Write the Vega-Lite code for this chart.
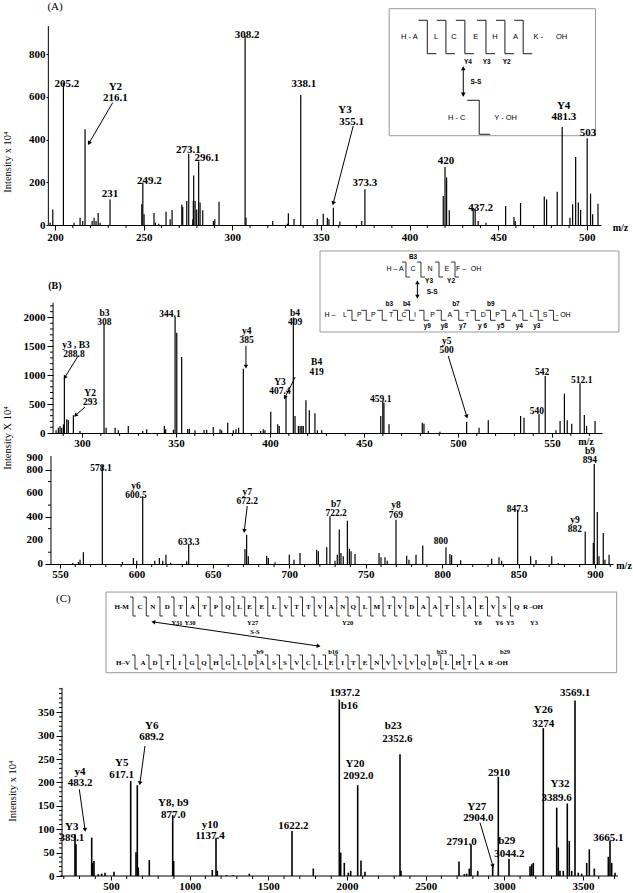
{
"$schema": "https://vega.github.io/schema/vega-lite/v6.json",
"padding": {"left": 3, "top": 1, "right": 8, "bottom": 0},
"background": "white",
"bounds": "flush",
"spacing": 0,
"config": {
 "view": {"stroke": null},
 "axis": {"grid": false, "domainColor": "black", "tickColor": "black", "labelColor": "black", "labelFont": "Liberation Serif", "labelFontWeight": "bold", "labelFontSize": 11, "labelOverlap": false, "labelFlush": false, "domainWidth": 1, "tickWidth": 1},
 "text": {"color": "black"},
 "rule": {"color": "black"},
 "point": {"color": "black"}
},
"datasets": {
 "one": [{}],
 "A_xm": [{"v":210},{"v":220},{"v":230},{"v":240},{"v":260},{"v":270},{"v":280},{"v":290},{"v":310},{"v":320},{"v":330},{"v":340},{"v":360},{"v":370},{"v":380},{"v":390},{"v":410},{"v":420},{"v":430},{"v":440},{"v":460},{"v":470},{"v":480},{"v":490}],
 "B1_xm": [{"v":290},{"v":310},{"v":320},{"v":330},{"v":340},{"v":360},{"v":370},{"v":380},{"v":390},{"v":410},{"v":420},{"v":430},{"v":440},{"v":460},{"v":470},{"v":480},{"v":490},{"v":510},{"v":520},{"v":530},{"v":540},{"v":560},{"v":570}],
 "B1_ym": [{"v":100},{"v":200},{"v":300},{"v":400},{"v":600},{"v":700},{"v":800},{"v":900},{"v":1100},{"v":1200},{"v":1300},{"v":1400},{"v":1600},{"v":1700},{"v":1800},{"v":1900},{"v":2100},{"v":2200}],
 "B2_xm": [{"v":560},{"v":570},{"v":580},{"v":590},{"v":610},{"v":620},{"v":630},{"v":640},{"v":660},{"v":670},{"v":680},{"v":690},{"v":710},{"v":720},{"v":730},{"v":740},{"v":760},{"v":770},{"v":780},{"v":790},{"v":810},{"v":820},{"v":830},{"v":840},{"v":860},{"v":870},{"v":880},{"v":890},{"v":910}],
 "B2_ym": [{"v":100},{"v":300},{"v":500},{"v":700}],
 "B2_ymaj": [{"v":0,"t":"0"},{"v":200,"t":"200"},{"v":400,"t":"400"},{"v":600,"t":"600"},{"v":800,"t":"800"},{"v":900,"t":"900"}],
 "C_xm": [{"v":200},{"v":300},{"v":400},{"v":600},{"v":700},{"v":800},{"v":900},{"v":1100},{"v":1200},{"v":1300},{"v":1400},{"v":1600},{"v":1700},{"v":1800},{"v":1900},{"v":2100},{"v":2200},{"v":2300},{"v":2400},{"v":2600},{"v":2700},{"v":2800},{"v":2900},{"v":3100},{"v":3200},{"v":3300},{"v":3400},{"v":3600},{"v":3700}],
 "C_ym": [{"v":10},{"v":20},{"v":30},{"v":40},{"v":60},{"v":70},{"v":80},{"v":90},{"v":110},{"v":120},{"v":130},{"v":140},{"v":160},{"v":170},{"v":180},{"v":190},{"v":210},{"v":220},{"v":230},{"v":240},{"v":260},{"v":270},{"v":280},{"v":290},{"v":310},{"v":320},{"v":330},{"v":340},{"v":360},{"v":370},{"v":380},{"v":390},{"v":400}],
 "A_box": [{"x":388.5,"x2":504.9,"y":418.3,"y2":1013.3}],
 "A_pk": [{"m":197.2,"i":11},{"m":198.7,"i":73},{"m":204.7,"i":667},{"m":210.7,"i":11},{"m":214.1,"i":34},{"m":215.6,"i":19},{"m":216.9,"i":448},{"m":220.9,"i":19},{"m":222,"i":34},{"m":223.1,"i":19},{"m":224.3,"i":56},{"m":225.4,"i":11},{"m":231,"i":120},{"m":248.9,"i":97},{"m":249.5,"i":198},{"m":250.2,"i":50},{"m":255.8,"i":56},{"m":256.6,"i":11},{"m":258.5,"i":6},{"m":262.6,"i":62},{"m":264.9,"i":27},{"m":266,"i":70},{"m":271.5,"i":95},{"m":272,"i":86},{"m":274.3,"i":112},{"m":275.4,"i":334},{"m":277.7,"i":27},{"m":278,"i":112},{"m":278.2,"i":232},{"m":279,"i":112},{"m":279.9,"i":73},{"m":281,"i":297},{"m":281.8,"i":105},{"m":283.3,"i":69},{"m":289.3,"i":19},{"m":290.1,"i":27},{"m":292.5,"i":109},{"m":307.2,"i":885},{"m":307.7,"i":34},{"m":322.8,"i":19},{"m":331,"i":6},{"m":331.6,"i":55},{"m":334.8,"i":28},{"m":338.6,"i":609},{"m":347.9,"i":28},{"m":351.3,"i":53},{"m":353.6,"i":34},{"m":354.5,"i":27},{"m":357,"i":81},{"m":360.7,"i":16},{"m":373,"i":19},{"m":374.8,"i":167},{"m":419,"i":136},{"m":420,"i":272},{"m":420.9,"i":222},{"m":422.4,"i":69},{"m":435.9,"i":78},{"m":437,"i":78},{"m":438.7,"i":19},{"m":443.1,"i":11},{"m":454.2,"i":89},{"m":458.9,"i":37},{"m":459.6,"i":19},{"m":462.6,"i":103},{"m":476,"i":133},{"m":477.3,"i":120},{"m":483.3,"i":156},{"m":486.1,"i":459},{"m":490.5,"i":34},{"m":492,"i":97},{"m":493.7,"i":319},{"m":495.2,"i":105},{"m":496.5,"i":70},{"m":500.2,"i":406},{"m":502.1,"i":147},{"m":503.3,"i":50},{"m":506.3,"i":100}],
 "A_lab": [{"m":206.6,"i":662,"t":"205.2"},{"m":234,"i":645,"t":"Y2"},{"m":234,"i":596,"t":"216.1"},{"m":231,"i":144,"t":"231"},{"m":253.2,"i":206,"t":"249.2"},{"m":275.2,"i":350,"t":"273.1"},{"m":285.7,"i":315,"t":"296.1"},{"m":308.3,"i":889,"t":"308.2"},{"m":340.4,"i":660,"t":"338.1"},{"m":363.6,"i":537,"t":"Y3"},{"m":367.3,"i":484,"t":"355.1"},{"m":374.8,"i":198,"t":"373.3"},{"m":420.5,"i":300,"t":"420"},{"m":440.1,"i":81,"t":"437.2"},{"m":486.9,"i":556,"t":"Y4"},{"m":487.1,"i":506,"t":"481.3"},{"m":500.6,"i":432,"t":"503"}],
 "A_mz": [{"m":519,"i":-13,"t":"m/z"}],
 "A_yt": [{"m":173.5,"i":295,"t":"Intensity x 10⁴"}],
 "A_sh": [{"m":232.5,"i":573,"m2":219.3,"i2":385.6},{"m":368.2,"i":463.8,"m2":357,"i2":104.5},{"m":430.3,"i":740,"m2":430.3,"i2":604}],
 "A_hd": [{"m":219.3,"i":385.6,"a":210.3},{"m":357,"i":104.5,"a":194.6},{"m":430.3,"i":731,"a":0},{"m":430.3,"i":614,"a":180}],
 "A_res": [{"m":399.9,"i":880.7,"t":"H - A"},{"m":414.9,"i":880.7,"t":"L"},{"m":425,"i":880.7,"t":"C"},{"m":437.4,"i":880.7,"t":"E"},{"m":448.2,"i":880.7,"t":"H"},{"m":459.8,"i":880.7,"t":"A"},{"m":472.6,"i":880.7,"t":"K -"},{"m":485.8,"i":880.7,"t":"OH"},{"m":426.6,"i":502.7,"t":"H - C"},{"m":454.2,"i":502.7,"t":"Y  -  OH"}],
 "A_ion": [{"m":432.9,"i":763.6,"t":"Y4"},{"m":443.5,"i":763.6,"t":"Y3"},{"m":454.8,"i":763.6,"t":"Y2"},{"m":437.4,"i":671.3,"t":"S-S"}],
 "A_title": [{"m":200,"i":1019,"t":"(A)"}],
 "A_sep1": [{"s":410},{"s":420.5},{"s":431.2},{"s":443.1},{"s":453.8},{"s":464.1}],
 "A_sep2": [{"s":439.3}],
 "B_box": [{"x":426.6,"x2":585.6,"y":1748,"y2":3150}],
 "B1_pk": [{"m":286.2,"i":46},{"m":287.4,"i":92},{"m":288.3,"i":121},{"m":289.2,"i":92},{"m":290.1,"i":150},{"m":290.6,"i":958},{"m":291.9,"i":237},{"m":292.7,"i":225},{"m":295.4,"i":306},{"m":298.9,"i":35},{"m":311.7,"i":1881},{"m":312.8,"i":92},{"m":317.6,"i":92},{"m":319.3,"i":46},{"m":324.6,"i":121},{"m":332.3,"i":35},{"m":334.4,"i":63},{"m":343.8,"i":121},{"m":344.5,"i":63},{"m":348.6,"i":58},{"m":349.5,"i":2008},{"m":350.4,"i":1737},{"m":353,"i":1316},{"m":356.2,"i":69},{"m":357.1,"i":75},{"m":360.1,"i":46},{"m":364.9,"i":52},{"m":366.3,"i":58},{"m":369.8,"i":104},{"m":373.4,"i":63},{"m":374.3,"i":46},{"m":377.5,"i":179},{"m":380.5,"i":46},{"m":381.9,"i":63},{"m":383.3,"i":92},{"m":385.8,"i":1114},{"m":395,"i":35},{"m":396.4,"i":63},{"m":397.3,"i":46},{"m":400.4,"i":369},{"m":404.1,"i":150},{"m":404.9,"i":121},{"m":408.5,"i":612},{"m":412.4,"i":1997},{"m":413.3,"i":294},{"m":415.1,"i":121},{"m":416,"i":121},{"m":416.9,"i":121},{"m":417.7,"i":121},{"m":419.1,"i":565},{"m":420.9,"i":392},{"m":423.9,"i":340},{"m":425.2,"i":46},{"m":427.5,"i":46},{"m":458.9,"i":294},{"m":460,"i":554},{"m":460.6,"i":525},{"m":463.3,"i":150},{"m":481,"i":179},{"m":481.9,"i":162},{"m":484.2,"i":35},{"m":490.4,"i":23},{"m":504.6,"i":196},{"m":511.2,"i":92},{"m":516.1,"i":219},{"m":533.3,"i":294},{"m":535.1,"i":265},{"m":543.1,"i":323},{"m":546.4,"i":987},{"m":552.1,"i":46},{"m":554.3,"i":208},{"m":556.6,"i":681},{"m":558.1,"i":219},{"m":560.5,"i":162},{"m":564.9,"i":860},{"m":567.2,"i":312},{"m":568.4,"i":121},{"m":572.9,"i":208}],
 "B1_lab": [{"m":311.9,"i":2080,"t":"b3"},{"m":311.9,"i":1926,"t":"308"},{"m":296.8,"i":1530,"t":"y3 , B3"},{"m":295.7,"i":1372,"t":"288.8"},{"m":304.3,"i":700,"t":"Y2"},{"m":304.3,"i":542,"t":"293"},{"m":346.8,"i":2065,"t":"344.1"},{"m":387.6,"i":1765,"t":"y4"},{"m":387.6,"i":1604,"t":"385"},{"m":405.3,"i":888,"t":"Y3"},{"m":405.3,"i":727,"t":"407.4"},{"m":413.3,"i":2080,"t":"b4"},{"m":413.3,"i":1921,"t":"409"},{"m":424.8,"i":1222,"t":"B4"},{"m":424.8,"i":1061,"t":"419"},{"m":458.9,"i":583,"t":"459.1"},{"m":494,"i":1597,"t":"y5"},{"m":494,"i":1436,"t":"500"},{"m":544.8,"i":1061,"t":"542"},{"m":565.8,"i":922,"t":"512.1"},{"m":541.9,"i":381,"t":"540"}],
 "B1_mz": [{"m":568.1,"i":-156,"t":"m/z"}],
 "B1_sh": [{"m":297.9,"i":1332.6,"m2":291,"i2":969.2},{"m":301.6,"i":450,"m2":296.8,"i2":311.5},{"m":387.2,"i":1505.7,"m2":387.2,"i2":1159.6},{"m":413.4,"i":969.2,"m2":408.1,"i2":623},{"m":494.8,"i":1332.6,"m2":504.6,"i2":294.2},{"m":478.4,"i":2631,"m2":478.4,"i2":2336}],
 "B1_hd": [{"m":291,"i":969.2,"a":211.8},{"m":296.8,"i":311.5,"a":228.4},{"m":387.2,"i":1159.6,"a":180},{"m":408.1,"i":623,"a":206.6},{"m":504.6,"i":294.2,"a":163},{"m":478.4,"i":2596,"a":0},{"m":478.4,"i":2371,"a":180}],
 "B_res": [{"m":466.5,"i":2838,"t":"H – A"},{"m":476.1,"i":2838,"t":"C"},{"m":485.1,"i":2838,"t":"N"},{"m":494.1,"i":2838,"t":"E"},{"m":501.6,"i":2838,"t":"F –"},{"m":509.6,"i":2838,"t":"OH"},{"m":431.9,"i":2037,"t":"H –"},{"m":439.9,"i":2037,"t":"L"},{"m":447.5,"i":2037,"t":"P"},{"m":455,"i":2037,"t":"P"},{"m":464.4,"i":2037,"t":"T"},{"m":471.3,"i":2037,"t":"C"},{"m":477.1,"i":2037,"t":"I"},{"m":486.5,"i":2037,"t":"P"},{"m":495.7,"i":2037,"t":"A"},{"m":504.9,"i":2037,"t":"T"},{"m":513.5,"i":2037,"t":"D"},{"m":521.1,"i":2037,"t":"P"},{"m":529.8,"i":2037,"t":"A"},{"m":539.2,"i":2037,"t":"L"},{"m":546.3,"i":2037,"t":"S"},{"m":556,"i":2037,"t":"- OH"}],
 "B_ion": [{"m":476.1,"i":3046,"t":"B3"},{"m":484.6,"i":2631,"t":"Y3"},{"m":496.3,"i":2631,"t":"Y2"},{"m":486.2,"i":2440,"t":"S-S"},{"m":463.5,"i":2238,"t":"b3"},{"m":472.7,"i":2238,"t":"b4"},{"m":498.9,"i":2238,"t":"b7"},{"m":517.4,"i":2238,"t":"b9"},{"m":483.7,"i":1852,"t":"y9"},{"m":492.7,"i":1852,"t":"y8"},{"m":502.5,"i":1852,"t":"y7"},{"m":513.1,"i":1852,"t":"y 6"},{"m":522.7,"i":1852,"t":"y5"},{"m":532.6,"i":1852,"t":"y4"},{"m":541.9,"i":1852,"t":"y3"}],
 "B_title": [{"m":285.6,"i":2544,"t":"(B)"}],
 "B_sepU": [{"s":472.3},{"s":480.3},{"s":489.9},{"s":498.4}],
 "B_sepL": [{"s":443.6},{"s":451.2},{"s":459.7},{"s":467.8},{"s":474.2},{"s":481.9},{"s":491.1},{"s":500.4},{"s":509.2},{"s":517.3},{"s":525.4},{"s":534.5},{"s":542.7},{"s":550.8}],
 "B2_pk": [{"m":558.3,"i":8},{"m":562,"i":17},{"m":563.1,"i":37},{"m":565.3,"i":99},{"m":577.7,"i":838},{"m":590.8,"i":17},{"m":598,"i":51},{"m":600.2,"i":28},{"m":604.1,"i":575},{"m":612,"i":28},{"m":615,"i":51},{"m":617.2,"i":28},{"m":619.3,"i":79},{"m":622.4,"i":11},{"m":632.9,"i":23},{"m":634.2,"i":164},{"m":671,"i":127},{"m":672.1,"i":249},{"m":673.2,"i":65},{"m":685.2,"i":71},{"m":686.3,"i":51},{"m":690.7,"i":14},{"m":700,"i":79},{"m":703.1,"i":37},{"m":707,"i":93},{"m":717.9,"i":122},{"m":719,"i":108},{"m":724.5,"i":142},{"m":726.6,"i":405},{"m":729.9,"i":28},{"m":731.4,"i":79},{"m":732.7,"i":292},{"m":733.8,"i":93},{"m":735.3,"i":65},{"m":738,"i":368},{"m":739.3,"i":130},{"m":740.4,"i":108},{"m":743,"i":85},{"m":758.7,"i":93},{"m":760,"i":57},{"m":762.6,"i":57},{"m":764.1,"i":28},{"m":769.8,"i":376},{"m":776.8,"i":71},{"m":778.3,"i":37},{"m":782.9,"i":79},{"m":787.3,"i":158},{"m":802.5,"i":142},{"m":805.1,"i":85},{"m":806.2,"i":74},{"m":812.1,"i":31},{"m":832.4,"i":45},{"m":837.2,"i":57},{"m":838.9,"i":28},{"m":849.4,"i":461},{"m":857.9,"i":65},{"m":861.4,"i":34},{"m":871.7,"i":65},{"m":876,"i":6},{"m":893.6,"i":277},{"m":898.9,"i":178},{"m":899.5,"i":849},{"m":901.5,"i":442},{"m":902.6,"i":65},{"m":905.4,"i":263},{"m":906.5,"i":37},{"m":909.2,"i":79}],
 "B2_lab": [{"m":576.8,"i":818,"t":"578.1"},{"m":599.7,"i":662,"t":"y6"},{"m":599.7,"i":586,"t":"600.5"},{"m":634.2,"i":189,"t":"633.3"},{"m":672.5,"i":614,"t":"y7"},{"m":672.5,"i":532,"t":"672.2"},{"m":730.6,"i":506,"t":"b7"},{"m":730.6,"i":430,"t":"722.2"},{"m":769.8,"i":505,"t":"y8"},{"m":769.8,"i":416,"t":"769"},{"m":799.2,"i":195,"t":"800"},{"m":849.2,"i":470,"t":"847.3"},{"m":886.9,"i":377,"t":"y9"},{"m":886.9,"i":295,"t":"882"},{"m":896.7,"i":959,"t":"b9"},{"m":896.7,"i":883,"t":"894"}],
 "B2_mz": [{"m":919,"i":-17,"t":"m/z"}],
 "B2_yt": [{"m":516,"i":1070,"t":"Intensity X 10⁴"}],
 "B2_sh": [{"m":672.5,"i":492,"m2":670.6,"i2":286}],
 "B2_hd": [{"m":670.6,"i":286,"a":187}],
 "C_box": [{"x":468.2,"x2":3714.2,"y":434.4,"y2":606.8}],
 "C_pk": [{"m":271.2,"i":89},{"m":277.5,"i":68},{"m":377.3,"i":82},{"m":383.7,"i":28},{"m":392,"i":32},{"m":419.3,"i":4},{"m":440.9,"i":5},{"m":461.9,"i":7},{"m":519.1,"i":9},{"m":625.2,"i":203},{"m":658.9,"i":51},{"m":667.2,"i":194},{"m":673.5,"i":18},{"m":743.4,"i":34},{"m":892.2,"i":130},{"m":898.5,"i":32},{"m":1143.9,"i":13},{"m":1167.4,"i":82},{"m":1175.7,"i":11},{"m":1235.4,"i":2},{"m":1277.4,"i":2},{"m":1379.1,"i":5},{"m":1650.5,"i":96},{"m":1785.9,"i":16},{"m":1951.1,"i":377},{"m":1960,"i":50},{"m":1982.9,"i":28},{"m":2008.3,"i":7},{"m":2023.5,"i":11},{"m":2068,"i":194},{"m":2089,"i":33},{"m":2114.4,"i":9},{"m":2336.9,"i":260},{"m":2343.3,"i":11},{"m":2711.9,"i":31},{"m":2745.6,"i":4},{"m":2760.8,"i":5},{"m":2777.4,"i":16},{"m":2788.2,"i":68},{"m":2830.8,"i":11},{"m":2926.1,"i":21},{"m":2961.7,"i":212},{"m":3029.7,"i":37},{"m":3163.2,"i":21},{"m":3174,"i":25},{"m":3184.1,"i":28},{"m":3247.7,"i":316},{"m":3332.9,"i":146},{"m":3343,"i":61},{"m":3353.8,"i":11},{"m":3374.8,"i":11},{"m":3400.2,"i":155},{"m":3412.9,"i":75},{"m":3428.2,"i":11},{"m":3449.2,"i":375},{"m":3470.2,"i":7},{"m":3491.8,"i":5},{"m":3523.6,"i":28},{"m":3540.2,"i":57},{"m":3572,"i":16},{"m":3661,"i":41},{"m":3671.7,"i":76},{"m":3682.5,"i":28},{"m":3703.5,"i":7}],
 "C_lab": [{"m":250.2,"i":105,"t":"Y3"},{"m":252.1,"i":82,"t":"389.1"},{"m":303,"i":222,"t":"y4"},{"m":303,"i":199,"t":"483.2"},{"m":568,"i":241,"t":"Y5"},{"m":568,"i":215,"t":"617.1"},{"m":758.7,"i":320,"t":"Y6"},{"m":758.7,"i":296,"t":"689.2"},{"m":896,"i":155,"t":"Y8, b9"},{"m":896,"i":130,"t":"877.0"},{"m":1129.3,"i":109,"t":"y10"},{"m":1129.3,"i":85,"t":"1137.4"},{"m":1658.7,"i":107,"t":"1622.2"},{"m":1987.3,"i":390,"t":"1937.2"},{"m":2014.6,"i":363,"t":"b16"},{"m":2050.9,"i":240,"t":"Y20"},{"m":2072,"i":214,"t":"2092.0"},{"m":2294.3,"i":321,"t":"b23"},{"m":2319.7,"i":292,"t":"2352.6"},{"m":2824.4,"i":147,"t":"Y27"},{"m":2834.6,"i":123,"t":"2904.0"},{"m":2729.1,"i":73,"t":"2791.0"},{"m":2966.2,"i":221,"t":"2910"},{"m":3015.1,"i":74,"t":"b29"},{"m":3031.6,"i":48,"t":"3044.2"},{"m":3247.8,"i":355,"t":"Y26"},{"m":3247.8,"i":325,"t":"3274"},{"m":3353.9,"i":197,"t":"Y32"},{"m":3332.9,"i":166,"t":"3389.6"},{"m":3449.2,"i":390,"t":"3569.1"},{"m":3660.9,"i":82,"t":"3665.1"}],
 "C_yt": [{"m":-119.7,"i":181.6,"t":"Intensity x 10⁴"}],
 "C_sh": [{"m":298.5,"i":185.3,"m2":334.7,"i2":99.8},{"m":716.1,"i":277.8,"m2":684.3,"i2":199.4},{"m":2845.4,"i":113.9,"m2":2926.1,"i2":22.9},{"m":773.3,"i":542.7,"m2":1815.7,"i2":491.5}],
 "C_hd": [{"m":334.7,"i":99.8,"a":172},{"m":684.3,"i":199.4,"a":187.8},{"m":2926.1,"i":22.9,"a":163.4},{"m":773.3,"i":542.7,"a":278.3},{"m":1815.7,"i":491.5,"a":98.3}],
 "C_res": [{"m":568,"i":574.8,"t":"H-M"},{"m":684.3,"i":574.8,"t":"C"},{"m":765,"i":574.8,"t":"N"},{"m":857.8,"i":574.8,"t":"D"},{"m":941.7,"i":574.8,"t":"T"},{"m":1018,"i":574.8,"t":"A"},{"m":1094.3,"i":574.8,"t":"T"},{"m":1167.4,"i":574.8,"t":"P"},{"m":1243.7,"i":574.8,"t":"Q"},{"m":1318,"i":574.8,"t":"L"},{"m":1381.6,"i":574.8,"t":"E"},{"m":1457.9,"i":574.8,"t":"E"},{"m":1536,"i":574.8,"t":"L"},{"m":1612.3,"i":574.8,"t":"V"},{"m":1680.3,"i":574.8,"t":"T"},{"m":1754.1,"i":574.8,"t":"T"},{"m":1828.4,"i":574.8,"t":"V"},{"m":1898.3,"i":574.8,"t":"A"},{"m":1972.7,"i":574.8,"t":"N"},{"m":2040,"i":574.8,"t":"Q"},{"m":2114.4,"i":574.8,"t":"L"},{"m":2188.8,"i":574.8,"t":"M"},{"m":2268.9,"i":574.8,"t":"T"},{"m":2336.9,"i":574.8,"t":"V"},{"m":2411.3,"i":574.8,"t":"D"},{"m":2485,"i":574.8,"t":"A"},{"m":2559.4,"i":574.8,"t":"A"},{"m":2633.8,"i":574.8,"t":"T"},{"m":2707.5,"i":574.8,"t":"S"},{"m":2777.4,"i":574.8,"t":"A"},{"m":2856.2,"i":574.8,"t":"E"},{"m":2930,"i":574.8,"t":"V"},{"m":2999.9,"i":574.8,"t":"S"},{"m":3078.7,"i":574.8,"t":"Q"},{"m":3182.3,"i":574.8,"t":"R -OH"},{"m":576.3,"i":455.8,"t":"H–V"},{"m":703.4,"i":455.8,"t":"A"},{"m":779.7,"i":455.8,"t":"D"},{"m":859.1,"i":455.8,"t":"T"},{"m":935.4,"i":455.8,"t":"I"},{"m":1014.8,"i":455.8,"t":"G"},{"m":1091.1,"i":455.8,"t":"Q"},{"m":1167.4,"i":455.8,"t":"H"},{"m":1243.7,"i":455.8,"t":"G"},{"m":1316.8,"i":455.8,"t":"L"},{"m":1386.7,"i":455.8,"t":"D"},{"m":1457.9,"i":455.8,"t":"A"},{"m":1536,"i":455.8,"t":"S"},{"m":1605.9,"i":455.8,"t":"S"},{"m":1680.3,"i":455.8,"t":"V"},{"m":1754.1,"i":455.8,"t":"C"},{"m":1828.4,"i":455.8,"t":"L"},{"m":1898.3,"i":455.8,"t":"E"},{"m":1972.7,"i":455.8,"t":"I"},{"m":2040,"i":455.8,"t":"T"},{"m":2114.4,"i":455.8,"t":"E"},{"m":2188.8,"i":455.8,"t":"N"},{"m":2262.5,"i":455.8,"t":"V"},{"m":2336.9,"i":455.8,"t":"V"},{"m":2411.3,"i":455.8,"t":"V"},{"m":2485,"i":455.8,"t":"Q"},{"m":2559.4,"i":455.8,"t":"D"},{"m":2633.8,"i":455.8,"t":"L"},{"m":2707.5,"i":455.8,"t":"H"},{"m":2777.4,"i":455.8,"t":"T"},{"m":2856.2,"i":455.8,"t":"A"},{"m":2959.8,"i":455.8,"t":"R -OH"}],
 "C_ion": [{"m":919.5,"i":541.2,"t":"Y31"},{"m":1002.1,"i":541.2,"t":"Y30"},{"m":1400.6,"i":541.2,"t":"Y27"},{"m":2004.5,"i":541.2,"t":"Y20"},{"m":2830.8,"i":541.2,"t":"Y8"},{"m":2968.1,"i":541.2,"t":"Y6"},{"m":3036.1,"i":541.2,"t":"Y5"},{"m":3188.7,"i":541.2,"t":"Y3"},{"m":1447.1,"i":478.6,"t":"b9"},{"m":1913,"i":478.6,"t":"b16"},{"m":2601.9,"i":478.6,"t":"b23"},{"m":3004.3,"i":478.6,"t":"b29"},{"m":1415.3,"i":522,"t":"S-S"}],
 "C_title": [{"m":196.8,"i":591.2,"t":"(C)"}],
 "C_sep1": [{"s":639.8},{"s":724.4},{"s":811.4},{"s":900.4},{"s":979.9},{"s":1056.2},{"s":1130.5},{"s":1205.5},{"s":1280.5},{"s":1349.8},{"s":1419.7},{"s":1496.6},{"s":1574.2},{"s":1646},{"s":1717.2},{"s":1791.6},{"s":1863.4},{"s":1935.2},{"s":2006.4},{"s":2077.6},{"s":2151.3},{"s":2228.9},{"s":2303.2},{"s":2373.8},{"s":2448.1},{"s":2522.5},{"s":2596.3},{"s":2670.6},{"s":2742.4},{"s":2816.8},{"s":2893.1},{"s":2964.9},{"s":3039.3}],
 "C_sep2": [{"s":652.5},{"s":741.5},{"s":819.1},{"s":897.3},{"s":974.8},{"s":1053},{"s":1129.3},{"s":1205.5},{"s":1279.9},{"s":1351.7},{"s":1422.3},{"s":1496.6},{"s":1571},{"s":1642.8},{"s":1717.2},{"s":1791.6},{"s":1863.4},{"s":1935.2},{"s":2006.4},{"s":2077.6},{"s":2151.3},{"s":2225.7},{"s":2300},{"s":2373.8},{"s":2448.1},{"s":2522.5},{"s":2596.3},{"s":2670.6},{"s":2742.4},{"s":2816.8}]
},
"vconcat": [
{
 "width": 553, "height": 222,
 "layer": [
  {"data": {"name": "A_box"}, "mark": {"type": "rect", "fillOpacity": 0, "stroke": "#999999", "strokeWidth": 1},
   "encoding": {
    "x": {"field": "x", "type": "quantitative", "scale": {"domain": [196, 508], "nice": false, "zero": false},
      "axis": {"title": null, "format": "d", "labelOverlap": false, "values": [200,250,300,350,400,450,500], "tickSize": 5, "labelPadding": 1}},
    "x2": {"field": "x2"},
    "y": {"field": "y", "type": "quantitative", "scale": {"domain": [0, 1040], "nice": false, "zero": false},
      "axis": {"title": null, "format": "d", "labelOverlap": false, "values": [0,200,400,600,800], "domain": false, "tickSize": 2, "labelPadding": 1}},
    "y2": {"field": "y2"}}},
  {"data": {"name": "A_pk"}, "mark": {"type": "rule", "strokeWidth": 1.2}, "encoding": {"x": {"field": "m", "type": "quantitative"}, "y": {"field": "i", "type": "quantitative"}, "y2": {"datum": 0}}},
  {"data": {"name": "one"}, "mark": {"type": "rule", "strokeWidth": 1}, "encoding": {"x": {"datum": 196.2}, "y": {"datum": 0}, "y2": {"datum": 932}}},
  {"data": {"name": "A_xm"}, "mark": {"type": "rule", "strokeWidth": 1, "y2Offset": 3}, "encoding": {"x": {"field": "v", "type": "quantitative"}, "y": {"datum": 0}, "y2": {"datum": 0}}},
  {"data": {"name": "A_lab"}, "mark": {"type": "text", "font": "Liberation Serif", "fontWeight": "bold", "fontSize": 11, "baseline": "middle", "align": "center"}, "encoding": {"x": {"field": "m", "type": "quantitative"}, "y": {"field": "i", "type": "quantitative"}, "text": {"field": "t"}}},
  {"data": {"name": "A_mz"}, "mark": {"type": "text", "font": "Liberation Serif", "fontWeight": "bold", "fontSize": 10, "baseline": "middle", "align": "center"}, "encoding": {"x": {"field": "m", "type": "quantitative"}, "y": {"field": "i", "type": "quantitative"}, "text": {"field": "t"}}},
  {"data": {"name": "A_yt"}, "mark": {"type": "text", "font": "Liberation Serif", "fontSize": 10.5, "angle": 270, "baseline": "middle", "align": "center"}, "encoding": {"x": {"field": "m", "type": "quantitative"}, "y": {"field": "i", "type": "quantitative"}, "text": {"field": "t"}}},
  {"data": {"name": "A_title"}, "mark": {"type": "text", "font": "Liberation Serif", "fontSize": 11, "baseline": "middle", "align": "center"}, "encoding": {"x": {"field": "m", "type": "quantitative"}, "y": {"field": "i", "type": "quantitative"}, "text": {"field": "t"}}},
  {"data": {"name": "A_sh"}, "mark": {"type": "rule", "strokeWidth": 1}, "encoding": {"x": {"field": "m", "type": "quantitative"}, "y": {"field": "i", "type": "quantitative"}, "x2": {"field": "m2"}, "y2": {"field": "i2"}}},
  {"data": {"name": "A_hd"}, "mark": {"type": "point", "shape": "triangle", "filled": true, "size": 22, "opacity": 1}, "encoding": {"x": {"field": "m", "type": "quantitative"}, "y": {"field": "i", "type": "quantitative"}, "angle": {"field": "a", "type": "quantitative", "scale": null}}},
  {"data": {"name": "A_res"}, "mark": {"type": "text", "font": "Liberation Sans", "fontSize": 7.5, "baseline": "middle", "align": "center"}, "encoding": {"x": {"field": "m", "type": "quantitative"}, "y": {"field": "i", "type": "quantitative"}, "text": {"field": "t"}}},
  {"data": {"name": "A_ion"}, "mark": {"type": "text", "font": "Liberation Sans", "fontWeight": "bold", "fontSize": 6.5, "baseline": "middle", "align": "center"}, "encoding": {"x": {"field": "m", "type": "quantitative"}, "y": {"field": "i", "type": "quantitative"}, "text": {"field": "t"}}},
  {"data": {"name": "A_sep1"}, "mark": {"type": "rule", "strokeWidth": 0.9}, "encoding": {"x": {"field": "s", "type": "quantitative"}, "y": {"datum": 959}, "y2": {"datum": 802.5}}},
  {"data": {"name": "A_sep1"}, "mark": {"type": "rule", "strokeWidth": 0.9, "xOffset": -9}, "encoding": {"x": {"field": "s", "type": "quantitative"}, "x2": {"field": "s"}, "y": {"datum": 959}}},
  {"data": {"name": "A_sep1"}, "mark": {"type": "rule", "strokeWidth": 0.9, "x2Offset": 9}, "encoding": {"x": {"field": "s", "type": "quantitative"}, "x2": {"field": "s"}, "y": {"datum": 802.5}}},
  {"data": {"name": "A_sep2"}, "mark": {"type": "rule", "strokeWidth": 0.9}, "encoding": {"x": {"field": "s", "type": "quantitative"}, "y": {"datum": 584.2}, "y2": {"datum": 425}}},
  {"data": {"name": "A_sep2"}, "mark": {"type": "rule", "strokeWidth": 0.9, "xOffset": -12}, "encoding": {"x": {"field": "s", "type": "quantitative"}, "x2": {"field": "s"}, "y": {"datum": 584.2}}},
  {"data": {"name": "A_sep2"}, "mark": {"type": "rule", "strokeWidth": 0.9, "x2Offset": 11}, "encoding": {"x": {"field": "s", "type": "quantitative"}, "x2": {"field": "s"}, "y": {"datum": 425}}}
 ]
},
{
 "width": 554, "height": 208,
 "layer": [
  {"data": {"name": "B_box"}, "mark": {"type": "rect", "fillOpacity": 0, "stroke": "#999999", "strokeWidth": 1},
   "encoding": {
    "x": {"field": "x", "type": "quantitative", "scale": {"domain": [281.9, 576.6], "nice": false, "zero": false},
      "axis": {"title": null, "format": "d", "labelOverlap": false, "values": [300,350,400,450,500,550], "tickSize": 4, "labelPadding": 0}},
    "x2": {"field": "x2"},
    "y": {"field": "y", "type": "quantitative", "scale": {"domain": [0, 3600], "nice": false, "zero": false},
      "axis": {"title": null, "format": "d", "labelOverlap": false, "values": [0,500,1000,1500,2000], "tickSize": 6, "domain": false, "offset": -5, "labelPadding": 2}},
    "y2": {"field": "y2"}}},
  {"data": {"name": "B1_pk"}, "mark": {"type": "rule", "strokeWidth": 1.2}, "encoding": {"x": {"field": "m", "type": "quantitative"}, "y": {"field": "i", "type": "quantitative"}, "y2": {"datum": 0}}},
  {"data": {"name": "one"}, "mark": {"type": "rule", "strokeWidth": 1}, "encoding": {"x": {"datum": 284.6}, "y": {"datum": 0}, "y2": {"datum": 2255}}},
  {"data": {"name": "B1_xm"}, "mark": {"type": "rule", "strokeWidth": 1, "y2Offset": 3}, "encoding": {"x": {"field": "v", "type": "quantitative"}, "y": {"datum": 0}, "y2": {"datum": 0}}},
  {"data": {"name": "B1_ym"}, "mark": {"type": "rule", "strokeWidth": 1, "xOffset": -3}, "encoding": {"x": {"datum": 284.6}, "x2": {"datum": 284.6}, "y": {"field": "v", "type": "quantitative"}}},
  {"data": {"name": "B1_lab"}, "mark": {"type": "text", "font": "Liberation Serif", "fontWeight": "bold", "fontSize": 9.5, "baseline": "middle", "align": "center"}, "encoding": {"x": {"field": "m", "type": "quantitative"}, "y": {"field": "i", "type": "quantitative"}, "text": {"field": "t"}}},
  {"data": {"name": "B1_mz"}, "mark": {"type": "text", "font": "Liberation Serif", "fontWeight": "bold", "fontSize": 10, "baseline": "middle", "align": "center"}, "encoding": {"x": {"field": "m", "type": "quantitative"}, "y": {"field": "i", "type": "quantitative"}, "text": {"field": "t"}}},
  {"data": {"name": "B_title"}, "mark": {"type": "text", "font": "Liberation Serif", "fontWeight": "bold", "fontSize": 10, "baseline": "middle", "align": "center"}, "encoding": {"x": {"field": "m", "type": "quantitative"}, "y": {"field": "i", "type": "quantitative"}, "text": {"field": "t"}}},
  {"data": {"name": "B1_sh"}, "mark": {"type": "rule", "strokeWidth": 1}, "encoding": {"x": {"field": "m", "type": "quantitative"}, "y": {"field": "i", "type": "quantitative"}, "x2": {"field": "m2"}, "y2": {"field": "i2"}}},
  {"data": {"name": "B1_hd"}, "mark": {"type": "point", "shape": "triangle", "filled": true, "size": 20, "opacity": 1}, "encoding": {"x": {"field": "m", "type": "quantitative"}, "y": {"field": "i", "type": "quantitative"}, "angle": {"field": "a", "type": "quantitative", "scale": null}}},
  {"data": {"name": "B_res"}, "mark": {"type": "text", "font": "Liberation Sans", "fontSize": 7, "baseline": "middle", "align": "center"}, "encoding": {"x": {"field": "m", "type": "quantitative"}, "y": {"field": "i", "type": "quantitative"}, "text": {"field": "t"}}},
  {"data": {"name": "B_ion"}, "mark": {"type": "text", "font": "Liberation Sans", "fontWeight": "bold", "fontSize": 6.5, "baseline": "middle", "align": "center"}, "encoding": {"x": {"field": "m", "type": "quantitative"}, "y": {"field": "i", "type": "quantitative"}, "text": {"field": "t"}}},
  {"data": {"name": "B_sepU"}, "mark": {"type": "rule", "strokeWidth": 0.8}, "encoding": {"x": {"field": "s", "type": "quantitative"}, "y": {"datum": 2959.5}, "y2": {"datum": 2700}}},
  {"data": {"name": "B_sepU"}, "mark": {"type": "rule", "strokeWidth": 0.8, "xOffset": -4}, "encoding": {"x": {"field": "s", "type": "quantitative"}, "x2": {"field": "s"}, "y": {"datum": 2959.5}}},
  {"data": {"name": "B_sepU"}, "mark": {"type": "rule", "strokeWidth": 0.8, "x2Offset": 4}, "encoding": {"x": {"field": "s", "type": "quantitative"}, "x2": {"field": "s"}, "y": {"datum": 2700}}},
  {"data": {"name": "B_sepL"}, "mark": {"type": "rule", "strokeWidth": 0.8}, "encoding": {"x": {"field": "s", "type": "quantitative"}, "y": {"datum": 2123.5}, "y2": {"datum": 1950.5}}},
  {"data": {"name": "B_sepL"}, "mark": {"type": "rule", "strokeWidth": 0.8, "xOffset": -5}, "encoding": {"x": {"field": "s", "type": "quantitative"}, "x2": {"field": "s"}, "y": {"datum": 2123.5}}},
  {"data": {"name": "B_sepL"}, "mark": {"type": "rule", "strokeWidth": 0.8, "x2Offset": 5}, "encoding": {"x": {"field": "s", "type": "quantitative"}, "x2": {"field": "s"}, "y": {"datum": 1950.5}}}
 ]
},
{
 "width": 565, "height": 131,
 "layer": [
  {"data": {"name": "B2_pk"}, "mark": {"type": "rule", "strokeWidth": 1.2},
   "encoding": {
    "x": {"field": "m", "type": "quantitative", "scale": {"domain": [542.15, 911.77], "nice": false, "zero": false},
      "axis": {"title": null, "format": "d", "labelOverlap": false, "values": [550,600,650,700,750,800,850,900], "tickSize": 4, "labelPadding": 0}},
    "y": {"field": "i", "type": "quantitative", "scale": {"domain": [0, 1112.3], "nice": false, "zero": false},
      "axis": {"title": null, "labels": false, "values": [0,200,400,600,800,900], "tickSize": 6, "domain": false, "offset": -3}},
    "y2": {"datum": 0}}},
  {"data": {"name": "one"}, "mark": {"type": "rule", "strokeWidth": 1}, "encoding": {"x": {"datum": 544.1}, "y": {"datum": 0}, "y2": {"datum": 917}}},
  {"data": {"name": "B2_xm"}, "mark": {"type": "rule", "strokeWidth": 1, "y2Offset": 3}, "encoding": {"x": {"field": "v", "type": "quantitative"}, "y": {"datum": 0}, "y2": {"datum": 0}}},
  {"data": {"name": "B2_ym"}, "mark": {"type": "rule", "strokeWidth": 1, "xOffset": -3}, "encoding": {"x": {"datum": 544.1}, "x2": {"datum": 544.1}, "y": {"field": "v", "type": "quantitative"}}},
  {"data": {"name": "B2_ymaj"}, "mark": {"type": "text", "font": "Liberation Serif", "fontWeight": "bold", "fontSize": 11, "baseline": "middle", "align": "right"}, "encoding": {"x": {"datum": 538.8}, "y": {"field": "v", "type": "quantitative"}, "text": {"field": "t"}}},
  {"data": {"name": "B2_lab"}, "mark": {"type": "text", "font": "Liberation Serif", "fontWeight": "bold", "fontSize": 9.5, "baseline": "middle", "align": "center"}, "encoding": {"x": {"field": "m", "type": "quantitative"}, "y": {"field": "i", "type": "quantitative"}, "text": {"field": "t"}}},
  {"data": {"name": "B2_mz"}, "mark": {"type": "text", "font": "Liberation Serif", "fontWeight": "bold", "fontSize": 10, "baseline": "middle", "align": "center"}, "encoding": {"x": {"field": "m", "type": "quantitative"}, "y": {"field": "i", "type": "quantitative"}, "text": {"field": "t"}}},
  {"data": {"name": "B2_yt"}, "mark": {"type": "text", "font": "Liberation Serif", "fontSize": 10.5, "angle": 270, "baseline": "middle", "align": "center"}, "encoding": {"x": {"field": "m", "type": "quantitative"}, "y": {"field": "i", "type": "quantitative"}, "text": {"field": "t"}}},
  {"data": {"name": "B2_sh"}, "mark": {"type": "rule", "strokeWidth": 1}, "encoding": {"x": {"field": "m", "type": "quantitative"}, "y": {"field": "i", "type": "quantitative"}, "x2": {"field": "m2"}, "y2": {"field": "i2"}}},
  {"data": {"name": "B2_hd"}, "mark": {"type": "point", "shape": "triangle", "filled": true, "size": 20, "opacity": 1}, "encoding": {"x": {"field": "m", "type": "quantitative"}, "y": {"field": "i", "type": "quantitative"}, "angle": {"field": "a", "type": "quantitative", "scale": null}}}
 ]
},
{
 "width": 570, "height": 312,
 "layer": [
  {"data": {"name": "C_box"}, "mark": {"type": "rect", "fillOpacity": 0, "stroke": "#999999", "strokeWidth": 1},
   "encoding": {
    "x": {"field": "x", "type": "quantitative", "scale": {"domain": [99.6, 3722.5], "nice": false, "zero": false},
      "axis": {"title": null, "format": "d", "labelOverlap": false, "domain": false, "values": [500,1000,1500,2000,2500,3000,3500], "tickSize": 4, "labelPadding": 0}},
    "x2": {"field": "x2"},
    "y": {"field": "y", "type": "quantitative", "scale": {"domain": [0, 666.7], "nice": false, "zero": false},
      "axis": {"title": null, "format": "d", "labelOverlap": false, "values": [0,50,100,150,200,250,300,350], "tickSize": 6, "domain": false, "offset": -14, "labelPadding": 2}},
    "y2": {"field": "y2"}}},
  {"data": {"name": "C_pk"}, "mark": {"type": "rule", "strokeWidth": 1.6}, "encoding": {"x": {"field": "m", "type": "quantitative"}, "y": {"field": "i", "type": "quantitative"}, "y2": {"datum": 0}}},
  {"data": {"name": "one"}, "mark": {"type": "rule", "strokeWidth": 1}, "encoding": {"x": {"datum": 188.6}, "y": {"datum": 0}, "y2": {"datum": 402}}},
  {"data": {"name": "one"}, "mark": {"type": "rule", "strokeWidth": 1}, "encoding": {"x": {"datum": 176}, "x2": {"datum": 3722.5}, "y": {"datum": 0}}},
  {"data": {"name": "C_xm"}, "mark": {"type": "rule", "strokeWidth": 1, "y2Offset": 3}, "encoding": {"x": {"field": "v", "type": "quantitative"}, "y": {"datum": 0}, "y2": {"datum": 0}}},
  {"data": {"name": "C_ym"}, "mark": {"type": "rule", "strokeWidth": 1, "xOffset": -3}, "encoding": {"x": {"datum": 188.6}, "x2": {"datum": 188.6}, "y": {"field": "v", "type": "quantitative"}}},
  {"data": {"name": "C_lab"}, "mark": {"type": "text", "font": "Liberation Serif", "fontWeight": "bold", "fontSize": 11, "baseline": "middle", "align": "center"}, "encoding": {"x": {"field": "m", "type": "quantitative"}, "y": {"field": "i", "type": "quantitative"}, "text": {"field": "t"}}},
  {"data": {"name": "C_yt"}, "mark": {"type": "text", "font": "Liberation Serif", "fontSize": 10.5, "angle": 270, "baseline": "middle", "align": "center"}, "encoding": {"x": {"field": "m", "type": "quantitative"}, "y": {"field": "i", "type": "quantitative"}, "text": {"field": "t"}}},
  {"data": {"name": "C_title"}, "mark": {"type": "text", "font": "Liberation Serif", "fontSize": 11, "baseline": "middle", "align": "center"}, "encoding": {"x": {"field": "m", "type": "quantitative"}, "y": {"field": "i", "type": "quantitative"}, "text": {"field": "t"}}},
  {"data": {"name": "C_sh"}, "mark": {"type": "rule", "strokeWidth": 1}, "encoding": {"x": {"field": "m", "type": "quantitative"}, "y": {"field": "i", "type": "quantitative"}, "x2": {"field": "m2"}, "y2": {"field": "i2"}}},
  {"data": {"name": "C_hd"}, "mark": {"type": "point", "shape": "triangle", "filled": true, "size": 20, "opacity": 1}, "encoding": {"x": {"field": "m", "type": "quantitative"}, "y": {"field": "i", "type": "quantitative"}, "angle": {"field": "a", "type": "quantitative", "scale": null}}},
  {"data": {"name": "C_res"}, "mark": {"type": "text", "font": "Liberation Serif", "fontWeight": "bold", "fontSize": 7, "baseline": "middle", "align": "center"}, "encoding": {"x": {"field": "m", "type": "quantitative"}, "y": {"field": "i", "type": "quantitative"}, "text": {"field": "t"}}},
  {"data": {"name": "C_ion"}, "mark": {"type": "text", "font": "Liberation Serif", "fontWeight": "bold", "fontSize": 6.5, "baseline": "middle", "align": "center"}, "encoding": {"x": {"field": "m", "type": "quantitative"}, "y": {"field": "i", "type": "quantitative"}, "text": {"field": "t"}}},
  {"data": {"name": "C_sep1"}, "mark": {"type": "rule", "strokeWidth": 0.8}, "encoding": {"x": {"field": "s", "type": "quantitative"}, "y": {"datum": 596.2}, "y2": {"datum": 555.6}}},
  {"data": {"name": "C_sep1"}, "mark": {"type": "rule", "strokeWidth": 0.8, "xOffset": -3}, "encoding": {"x": {"field": "s", "type": "quantitative"}, "x2": {"field": "s"}, "y": {"datum": 596.2}}},
  {"data": {"name": "C_sep1"}, "mark": {"type": "rule", "strokeWidth": 0.8, "x2Offset": 3}, "encoding": {"x": {"field": "s", "type": "quantitative"}, "x2": {"field": "s"}, "y": {"datum": 555.6}}},
  {"data": {"name": "C_sep2"}, "mark": {"type": "rule", "strokeWidth": 0.8}, "encoding": {"x": {"field": "s", "type": "quantitative"}, "y": {"datum": 472.2}, "y2": {"datum": 442.3}}},
  {"data": {"name": "C_sep2"}, "mark": {"type": "rule", "strokeWidth": 0.8, "xOffset": -3}, "encoding": {"x": {"field": "s", "type": "quantitative"}, "x2": {"field": "s"}, "y": {"datum": 472.2}}},
  {"data": {"name": "C_sep2"}, "mark": {"type": "rule", "strokeWidth": 0.8, "x2Offset": 3}, "encoding": {"x": {"field": "s", "type": "quantitative"}, "x2": {"field": "s"}, "y": {"datum": 442.3}}}
 ]
}
]
}
